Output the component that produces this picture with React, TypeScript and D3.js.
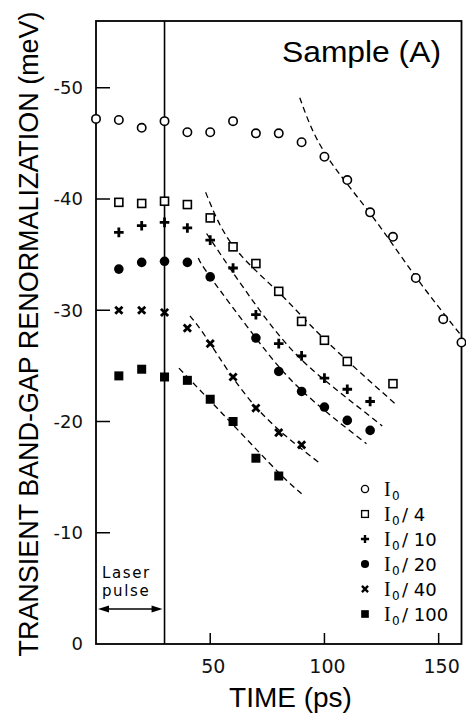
import React from 'react'
import * as d3 from 'd3'

// measured points, time in ps, renormalization in meV
const i0Time = [0, 10, 20, 30, 40, 50, 60, 70, 80, 90, 100, 110, 120, 130, 140, 152, 160]
const i0Value = [-47.2, -47.1, -46.4, -47.0, -46.0, -46.0, -47.0, -45.9, -45.9, -45.1, -43.8, -41.7, -38.8, -36.6, -32.9, -29.2, -27.1]

const i4Time = [10, 20, 30, 40, 50, 60, 70, 80, 90, 100, 110, 130]
const i4Value = [-39.7, -39.6, -39.8, -39.5, -38.3, -35.7, -34.2, -31.7, -29.0, -27.3, -25.4, -23.4]

const i10Time = [10, 20, 30, 40, 50, 60, 70, 80, 90, 100, 110, 120]
const i10Value = [-37.0, -37.6, -37.9, -37.4, -36.3, -33.8, -29.6, -27.0, -25.9, -23.9, -22.9, -21.8]

const i20Time = [10, 20, 30, 40, 50, 70, 80, 90, 100, 110, 120]
const i20Value = [-33.7, -34.3, -34.4, -34.3, -33.0, -27.5, -24.5, -22.7, -21.3, -20.1, -19.2]

const i40Time = [10, 20, 30, 40, 50, 60, 70, 80, 90]
const i40Value = [-30.0, -30.0, -29.8, -28.4, -27.0, -24.0, -21.2, -19.0, -17.9]

const i100Time = [10, 20, 30, 40, 50, 60, 70, 80]
const i100Value = [-24.1, -24.7, -24.0, -23.7, -22.0, -20.0, -16.7, -15.1]

// dashed fit curves
const fit0Time = [89.2, 100, 120, 140, 159.2]
const fit0Value = [-49.1, -44.2, -38.7, -33.0, -27.9]
const fit4Time = [48, 60, 80, 100, 132]
const fit4Value = [-40.6, -35.8, -31.6, -27.4, -21.4]
const fit10Time = [48.4, 65, 85, 105, 125.3]
const fit10Value = [-36.9, -31.9, -26.6, -22.9, -19.6]
const fit20Time = [44.8, 50, 70, 90, 118.4]
const fit20Value = [-34.7, -33.0, -27.5, -22.8, -18.0]
const fit40Time = [41.1, 50, 70, 98.3]
const fit40Value = [-29.5, -27.0, -21.3, -16.2]
const fit100Time = [36.3, 60, 80, 90]
const fit100Value = [-24.8, -19.7, -15.4, -13.5]

const legendDivisor = ['', '4', '10', '20', '40', '100']
const xTicks = [50, 100, 150]
const yTicks = [0, -10, -20, -30, -40, -50]
const pulseEnd = 30

const series = [
  { time: i0Time, value: i0Value, fitT: fit0Time, fitV: fit0Value, mark: 'circleOpen' },
  { time: i4Time, value: i4Value, fitT: fit4Time, fitV: fit4Value, mark: 'squareOpen' },
  { time: i10Time, value: i10Value, fitT: fit10Time, fitV: fit10Value, mark: 'plus' },
  { time: i20Time, value: i20Value, fitT: fit20Time, fitV: fit20Value, mark: 'dot' },
  { time: i40Time, value: i40Value, fitT: fit40Time, fitV: fit40Value, mark: 'cross' },
  { time: i100Time, value: i100Value, fitT: fit100Time, fitV: fit100Value, mark: 'squareFilled' },
]

function Marker({ type, x, y, s = 1 }: { type: string; x: number; y: number; s?: number }) {
  const t = `translate(${x},${y}) scale(${s})`
  if (type === 'circleOpen') return <circle transform={t} r={4.2} fill="#fff" stroke="#000" strokeWidth={1.6} />
  if (type === 'squareOpen') return <rect transform={t} x={-4} y={-4} width={8} height={8} fill="#fff" stroke="#000" strokeWidth={1.6} />
  if (type === 'plus') return <path transform={t} d="M-4.8,0H4.8M0,-4.8V4.8" stroke="#000" strokeWidth={2.8} />
  if (type === 'dot') return <circle transform={t} r={4.8} fill="#000" />
  if (type === 'cross') return <path transform={t} d="M-3.6,-3.6L3.6,3.6M-3.6,3.6L3.6,-3.6" stroke="#000" strokeWidth={2.8} />
  return <rect transform={t} x={-4.5} y={-4.5} width={9} height={9} fill="#000" />
}

export default function App() {
  const x = d3.scaleLinear().domain([0, 160]).range([96, 461.5])
  const y = d3.scaleLinear().domain([0, -56]).range([644, 21])

  const line = d3.line<[number, number]>()
    .x(d => x(d[0]))
    .y(d => y(d[1]))
    .curve(d3.curveNatural)

  const sans = 'Liberation Sans, Arial, sans-serif'
  const tickFont = 'DejaVu Sans, sans-serif'
  const legendRows = [489, 514, 539, 564, 589, 614]

  return (
    <svg width={466} height={715} style={{ position: 'absolute', left: 0, top: 0, background: '#fff' }}>
      <rect x={0} y={0} width={466} height={715} fill="#fff" />

      {/* fit curves */}
      {series.map((s, i) => (
        <path key={`fit-${i}`} d={line(s.fitT.map((t, j) => [t, s.fitV[j]] as [number, number])) || ''}
          fill="none" stroke="#000" strokeWidth={1.3} strokeDasharray="6,4" />
      ))}

      {/* frame */}
      <rect x={x(0)} y={y(-56)} width={x(160) - x(0)} height={y(0) - y(-56)} fill="none" stroke="#000" strokeWidth={1.8} />
      <line x1={x(pulseEnd)} x2={x(pulseEnd)} y1={y(-56)} y2={y(0)} stroke="#000" strokeWidth={1.6} />

      {yTicks.map(v => (
        <g key={`yt-${v}`}>
          {v !== 0 && <line x1={x(0)} x2={x(0) + 14} y1={y(v)} y2={y(v)} stroke="#000" strokeWidth={1.5} />}
          <text x={83} y={y(v)} dy="0.36em" textAnchor="end" fontFamily={tickFont} fontSize={18}
            fill="#111">{v === 0 ? '0' : `-${-v}`}</text>
        </g>
      ))}
      {xTicks.map(v => (
        <g key={`xt-${v}`}>
          <line x1={x(v)} x2={x(v)} y1={y(0)} y2={y(0) - 11} stroke="#000" strokeWidth={1.5} />
          <text x={x(v) + 3} y={673} textAnchor="middle" fontFamily={tickFont} fontSize={19} fill="#111">{v}</text>
        </g>
      ))}

      {/* data */}
      {series.map((s, i) => (
        <g key={`pts-${i}`}>
          {s.time.map((t, j) => <Marker key={j} type={s.mark} x={x(t)} y={y(s.value[j])} />)}
        </g>
      ))}

      {/* titles */}
      <text x={290.5} y={707} textAnchor="middle" fontFamily={sans} fontSize={28} fill="#000">TIME (ps)</text>
      <text transform="translate(38,334) rotate(-90)" textAnchor="middle" fontFamily={sans} fontSize={27}
        textLength={645} lengthAdjust="spacingAndGlyphs" fill="#000">TRANSIENT BAND-GAP RENORMALIZATION (meV)</text>
      <text x={282} y={62} fontFamily={sans} fontSize={30} textLength={159} lengthAdjust="spacingAndGlyphs" fill="#000">Sample (A)</text>

      {/* laser pulse */}
      <text x={102} y={578} fontFamily={tickFont} fontSize={15} letterSpacing={1.6} fill="#000">Laser</text>
      <text x={102} y={596} fontFamily={tickFont} fontSize={15} letterSpacing={1.6} fill="#000">pulse</text>
      <line x1={x(0) + 10} x2={x(pulseEnd) - 10} y1={609} y2={609} stroke="#000" strokeWidth={1.4} />
      <path d={`M${x(0) + 2},609l11,-3.5v7z`} fill="#000" />
      <path d={`M${x(pulseEnd) - 2},609l-11,-3.5v7z`} fill="#000" />

      {/* legend */}
      {series.map((s, i) => (
        <g key={`lg-${i}`}>
          <Marker type={s.mark} x={365} y={legendRows[i]} s={0.85} />
          <text x={384} y={legendRows[i] + 7} fontFamily="Liberation Serif, serif" fontSize={20} fill="#000">I</text>
          <text x={392} y={legendRows[i] + 11} fontFamily={tickFont} fontSize={12} fill="#000">0</text>
          {legendDivisor[i] && (
            <text x={402} y={legendRows[i] + 7} fontFamily={tickFont} fontSize={18} fill="#000"
              style={{ whiteSpace: 'pre' }}>{`/ ${legendDivisor[i]}`}</text>
          )}
        </g>
      ))}
    </svg>
  )
}
